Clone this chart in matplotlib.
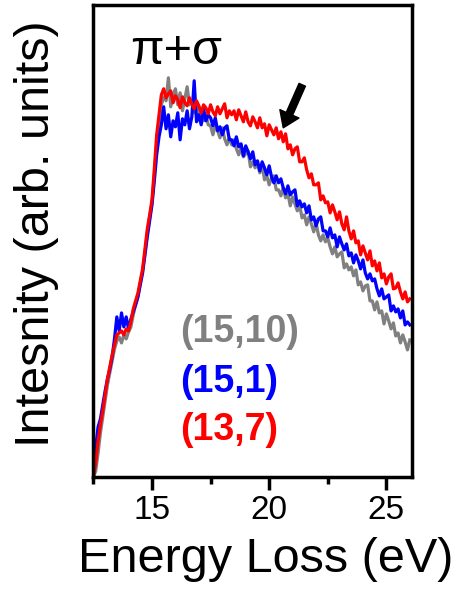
import numpy as np
import matplotlib
matplotlib.use('Agg')
import matplotlib.pyplot as plt
from matplotlib.ticker import MultipleLocator

plt.rcParams['font.family'] = ['Liberation Sans', 'DejaVu Sans']

# energy grid (eV), 0.1 eV steps
energy = np.round(np.arange(12.5, 26.05, 0.1), 1)

# intensities (arb. units)
int_15_10 = [
    0, 6, 24, 44, 60, 76, 92, 104, 116, 128,
    136, 140, 134, 142, 138, 145, 150, 162, 172, 180,
    194, 206, 224, 244, 260, 274, 302, 334, 356, 372,
    380, 376, 399, 370, 382, 388, 372, 384, 366, 378,
    390, 372, 376, 364, 372, 360, 368, 356, 362, 352,
    351, 342, 351, 346, 339, 349, 338, 332, 339, 332,
    337, 328, 322, 329, 320, 323, 326, 310, 315, 309,
    313, 304, 312, 297, 301, 292, 299, 301, 287, 287,
    281, 289, 279, 283, 271, 280, 273, 266, 272, 259,
    262, 252, 260, 253, 245, 254, 242, 236, 242, 235,
    239, 230, 223, 230, 220, 223, 225, 209, 213, 207,
    210, 201, 207, 192, 195, 186, 191, 192, 176, 176,
    167, 175, 164, 166, 153, 163, 156, 148, 154, 141,
    144, 134, 142, 135, 127, 137,
]
int_15_1 = [
    10, 30, 50, 58, 72, 86, 98, 108, 120, 138,
    160, 146, 164, 150, 160, 148, 158, 165, 172, 180,
    192, 204, 222, 240, 256, 272, 296, 322, 340, 352,
    370, 348, 362, 340, 356, 350, 364, 337, 358, 352,
    366, 348, 360, 396, 355, 362, 352, 368, 356, 362,
    359, 351, 359, 346, 350, 342, 349, 351, 337, 337,
    331, 340, 330, 333, 321, 331, 325, 318, 325, 312,
    316, 306, 315, 309, 302, 311, 300, 294, 301, 294,
    298, 289, 283, 291, 282, 285, 287, 271, 276, 270,
    273, 264, 271, 257, 260, 251, 258, 260, 246, 246,
    240, 249, 239, 242, 230, 240, 233, 227, 233, 221,
    224, 214, 222, 216, 208, 217, 204, 198, 203, 196,
    198, 188, 181, 188, 178, 180, 182, 166, 171, 165,
    168, 159, 166, 152, 155, 152,
]
int_13_7 = [
    0, 14, 36, 52, 66, 82, 98, 110, 122, 132,
    142, 144, 146, 142, 148, 146, 155, 168, 176, 184,
    196, 208, 228, 248, 262, 277, 308, 342, 362, 382,
    388, 379, 383, 386, 374, 381, 377, 369, 380, 374,
    371, 379, 373, 368, 376, 371, 364, 372, 369, 363,
    372, 365, 361, 370, 363, 368, 373, 359, 366, 362,
    366, 357, 367, 361, 355, 365, 355, 351, 360, 355,
    349, 359, 349, 353, 341, 352, 347, 342, 349, 338,
    345, 335, 343, 328, 332, 322, 328, 330, 315, 315,
    319, 307, 299, 303, 292, 292, 294, 277, 281, 274,
    275, 264, 272, 265, 257, 265, 253, 247, 260, 246,
    238, 246, 234, 236, 222, 231, 224, 217, 226, 211,
    216, 206, 214, 199, 203, 193, 200, 203, 188, 189,
    194, 185, 178, 185, 175, 178,
]

fig = plt.figure(figsize=(4.6, 5.94), dpi=100)
ax = fig.add_axes([0.202, 0.197, 0.694, 0.795])

ax.plot(energy, int_15_10, color='#808080', lw=2.3)
ax.plot(energy, int_15_1, color='#0000ff', lw=2.3)
ax.plot(energy, int_13_7, color='#ff0000', lw=2.3)

ax.set_xlim(12.48, 26.1)
ax.set_ylim(0, 472)
ax.set_yticks([])
ax.xaxis.set_major_locator(MultipleLocator(5))
ax.xaxis.set_minor_locator(MultipleLocator(2.5))
ax.tick_params(axis='x', which='major', direction='out', length=9, width=2.5,
               labelsize=24, pad=4)
ax.tick_params(axis='x', which='minor', direction='out', length=5, width=2.5)
for sp in ax.spines.values():
    sp.set_linewidth(2.5)

ax.set_xlabel('Energy Loss (eV)', fontsize=35)
ax.xaxis.set_label_coords(0.542, -0.127)
ax.set_ylabel('Intesnity (arb. units)', fontsize=35)
ax.yaxis.set_label_coords(-0.107, 0.515)

fig.text(0.283, 0.892, 'π+σ', fontsize=35, ha='left', va='baseline')

fig.text(0.391, 0.4242, '(15,10)', fontsize=27, fontweight='bold',
         color='#808080', ha='left', va='baseline')
fig.text(0.391, 0.340, '(15,1)', fontsize=27, fontweight='bold',
         color='#0000ff', ha='left', va='baseline')
fig.text(0.391, 0.2593, '(13,7)', fontsize=27, fontweight='bold',
         color='#ff0000', ha='left', va='baseline')

ax.annotate('', xy=(20.6, 349), xytext=(21.41, 392),
            arrowprops=dict(facecolor='black', edgecolor='black',
                            width=5, headwidth=15, headlength=11, shrink=0))

fig.savefig('out.png', dpi=100)
